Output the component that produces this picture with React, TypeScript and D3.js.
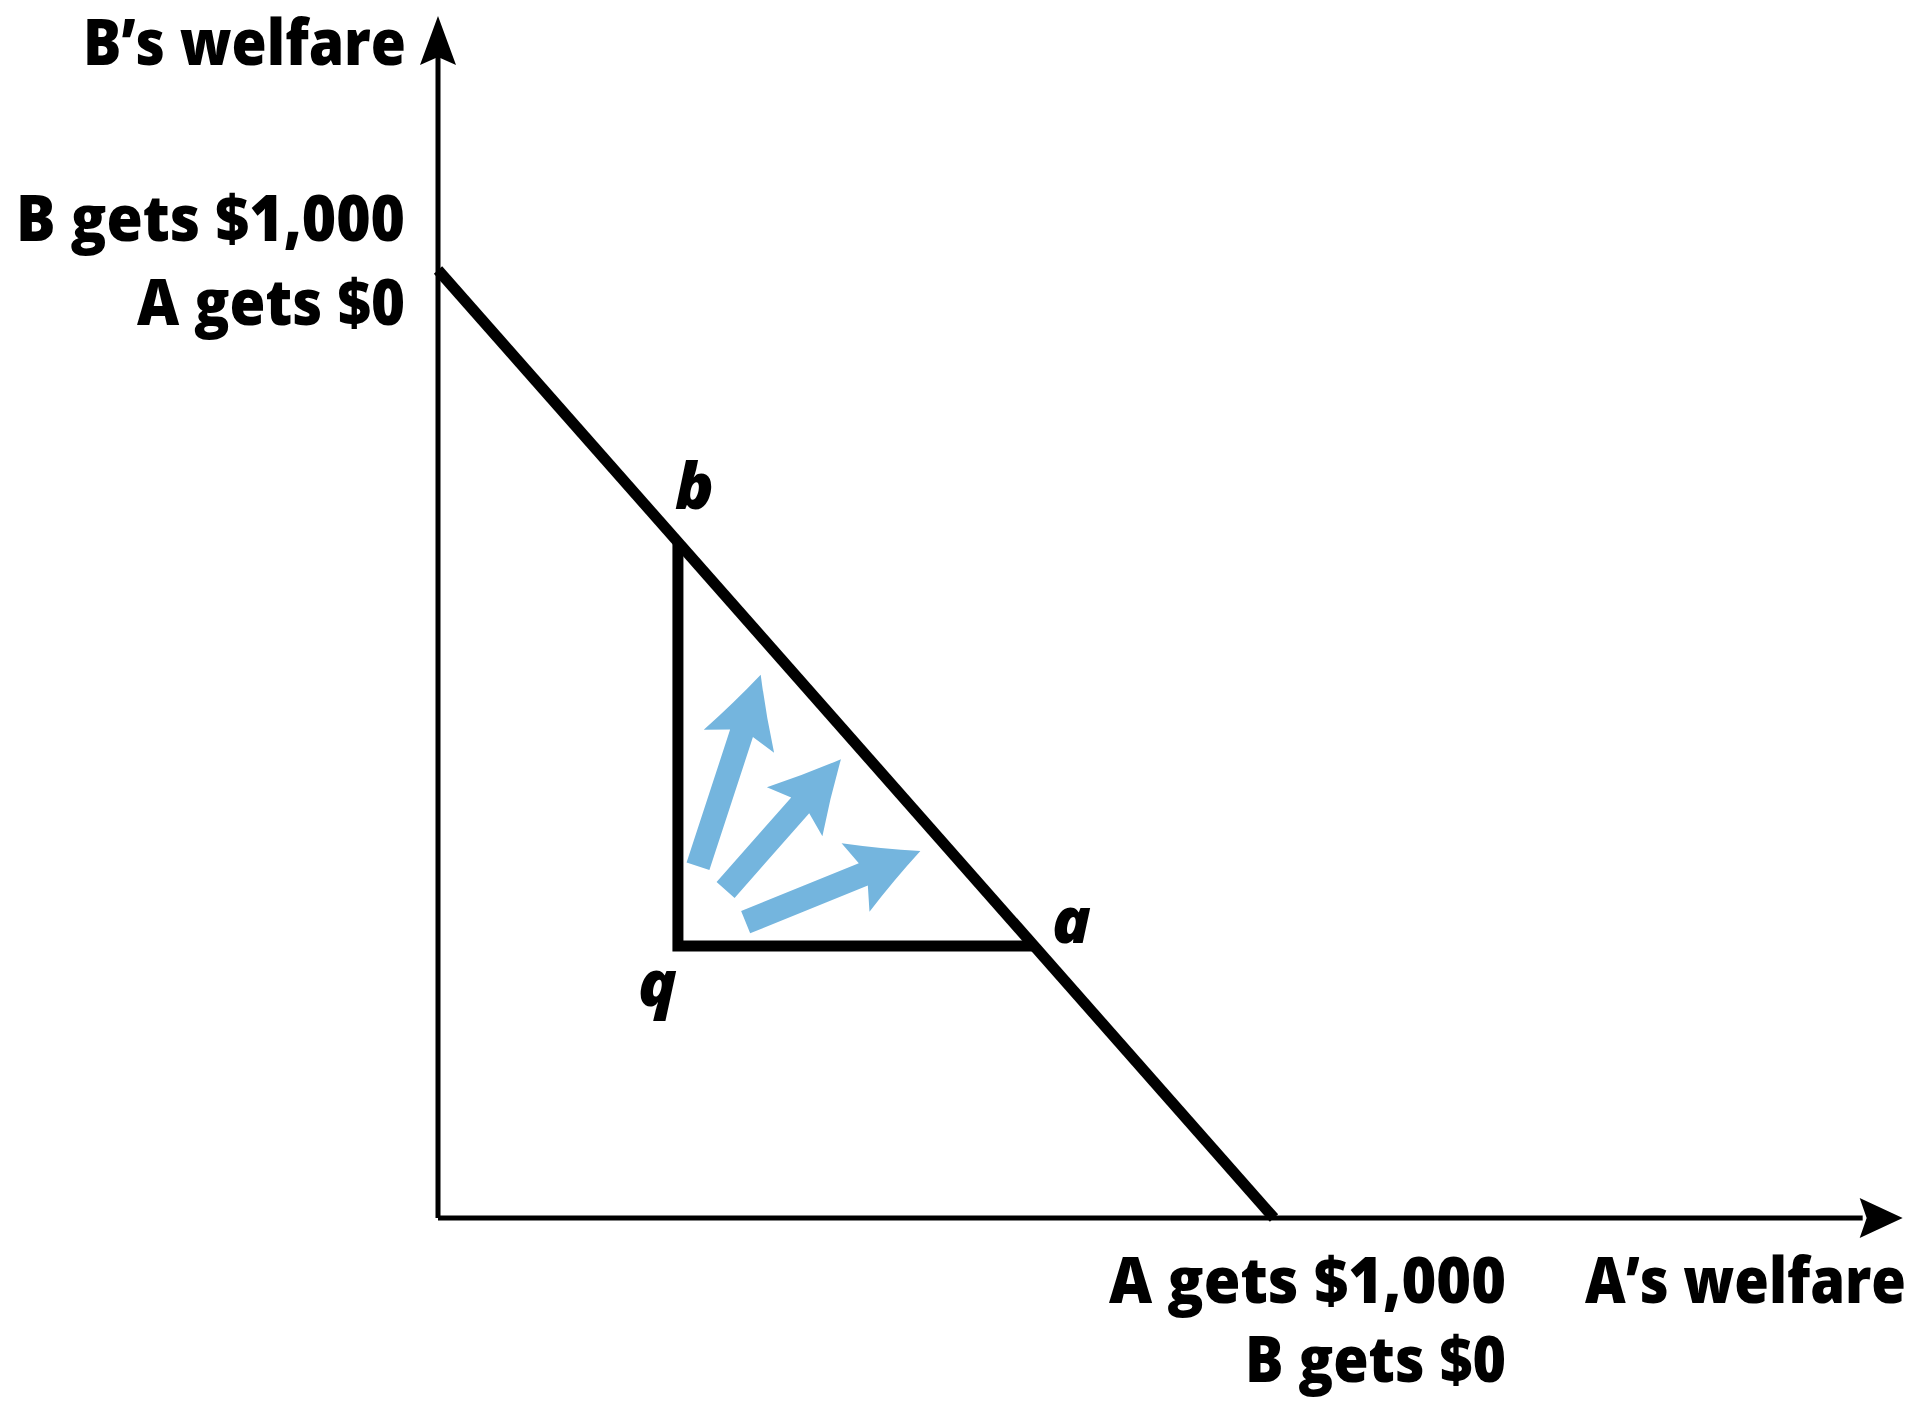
import * as d3 from "d3";
import React from "react";

// welfare in dollars, A on x, B on y
const frontierA = [0, 1000];
const frontierB = [1000, 0];
const triangleA = [287, 287, 713];
const triangleB = [713, 287, 287];
const pointNames = ["b", "q", "a"];

const arrowTailA = [311, 344, 368];
const arrowTailB = [371, 346, 312];
const arrowTipA = [386, 482, 577];
const arrowTipB = [573, 484, 387];

const axisMaxA = 1752;
const axisMaxB = 1268;

const yTitle = "B\u2019s welfare";
const xTitle = "A\u2019s welfare";
const yEndLabels = ["B gets $1,000", "A gets $0"];
const xEndLabels = ["A gets $1,000", "B gets $0"];

const width = 1915;
const height = 1402;

const x = d3.scaleLinear().domain([0, 1000]).range([438, 1274]);
const y = d3.scaleLinear().domain([0, 1000]).range([1218, 270]);

const labelFont = "'Open Sans', sans-serif";
const blue = "#74b5de";

function arrowPath(tx: number, ty: number, px: number, py: number) {
  const w = 24, L = 70, H = 37;
  const len = Math.hypot(px - tx, py - ty);
  const ux = (px - tx) / len, uy = (py - ty) / len;
  const nx = -uy, ny = ux;
  const at = (back: number, side: number): [number, number] => [px - back * ux + side * nx, py - back * uy + side * ny];
  const p = d3.path();
  const j1 = at(L * 0.88, w / 2), j2 = at(L * 0.88, -w / 2);
  const b1 = at(L, H), b2 = at(L, -H);
  const s1 = at(L * 0.5, H * 0.45), s2 = at(L * 0.5, -H * 0.45);
  p.moveTo(tx + nx * w / 2, ty + ny * w / 2);
  p.lineTo(j1[0], j1[1]);
  p.lineTo(b1[0], b1[1]);
  p.quadraticCurveTo(s1[0], s1[1], px, py);
  p.quadraticCurveTo(s2[0], s2[1], b2[0], b2[1]);
  p.lineTo(j2[0], j2[1]);
  p.lineTo(tx - nx * w / 2, ty - ny * w / 2);
  p.closePath();
  return p.toString();
}

export default function App() {
  const line = d3.line<number>().x((d, i) => x(triangleA[i])).y((d, i) => y(triangleB[i]));
  const frontier = d3.line<number>().x((d, i) => x(frontierA[i])).y((d, i) => y(frontierB[i]));

  const x0 = x(0), y0 = y(0);
  const xEnd = x(axisMaxA), yEnd = y(axisMaxB);

  const labelOffsets = [
    { dx: -3, dy: -33 },
    { dx: -40, dy: 60 },
    { dx: 18, dy: -3 },
  ];

  const lab = { fontFamily: labelFont, fontWeight: 800, fontSize: 64 } as const;

  return (
    <svg width={width} height={height} style={{ position: "absolute", left: 0, top: 0, background: "#fff" }}>
      {/* axes */}
      <line x1={x0} y1={y0} x2={x0} y2={yEnd + 40} stroke="#000" strokeWidth={5} />
      <line x1={x0} y1={y0} x2={xEnd - 40} y2={y0} stroke="#000" strokeWidth={5} />
      <path d={`M${x0},${yEnd} L${x0 + 18},${yEnd + 49} L${x0},${yEnd + 41} L${x0 - 18},${yEnd + 49} Z`} fill="#000" />
      <path d={`M${xEnd},${y0} L${xEnd - 43},${y0 - 20} L${xEnd - 36},${y0} L${xEnd - 43},${y0 + 20} Z`} fill="#000" />

      {/* frontier */}
      <path d={frontier(frontierA) || ""} fill="none" stroke="#000" strokeWidth={11} />
      {/* triangle b-q-a */}
      <path d={line(triangleA) || ""} fill="none" stroke="#000" strokeWidth={11} strokeLinejoin="miter" />

      {/* blue arrows */}
      {arrowTailA.map((d, i) => (
        <path key={i} d={arrowPath(x(d), y(arrowTailB[i]), x(arrowTipA[i]), y(arrowTipB[i]))} fill={blue} />
      ))}

      {/* point labels */}
      {pointNames.map((n, i) => (
        <text
          key={n}
          x={x(triangleA[i]) + labelOffsets[i].dx}
          y={y(triangleB[i]) + labelOffsets[i].dy}
          fontFamily="'Open Sans', sans-serif"
          fontWeight={800}
          fontStyle="italic"
          fontSize={64}
          fill="#000"
        >
          {n}
        </text>
      ))}

      {/* axis titles */}
      <text x={x0 - 32} y={65} textAnchor="end" {...lab} textLength={323} lengthAdjust="spacingAndGlyphs">{yTitle}</text>
      <text x={1906} y={y0 + 85} textAnchor="end" {...lab} textLength={321} lengthAdjust="spacingAndGlyphs">{xTitle}</text>

      {/* endpoint labels */}
      <text x={x0 - 33} y={y(1000) - 29} textAnchor="end" {...lab} textLength={389} lengthAdjust="spacingAndGlyphs">{yEndLabels[0]}</text>
      <text x={x0 - 33} y={y(1000) + 55} textAnchor="end" {...lab} textLength={268} lengthAdjust="spacingAndGlyphs">{yEndLabels[1]}</text>
      <text x={x(1000) + 232} y={y0 + 85} textAnchor="end" {...lab} textLength={397} lengthAdjust="spacingAndGlyphs">{xEndLabels[0]}</text>
      <text x={x(1000) + 232} y={y0 + 164} textAnchor="end" {...lab} textLength={261} lengthAdjust="spacingAndGlyphs">{xEndLabels[1]}</text>
    </svg>
  );
}
